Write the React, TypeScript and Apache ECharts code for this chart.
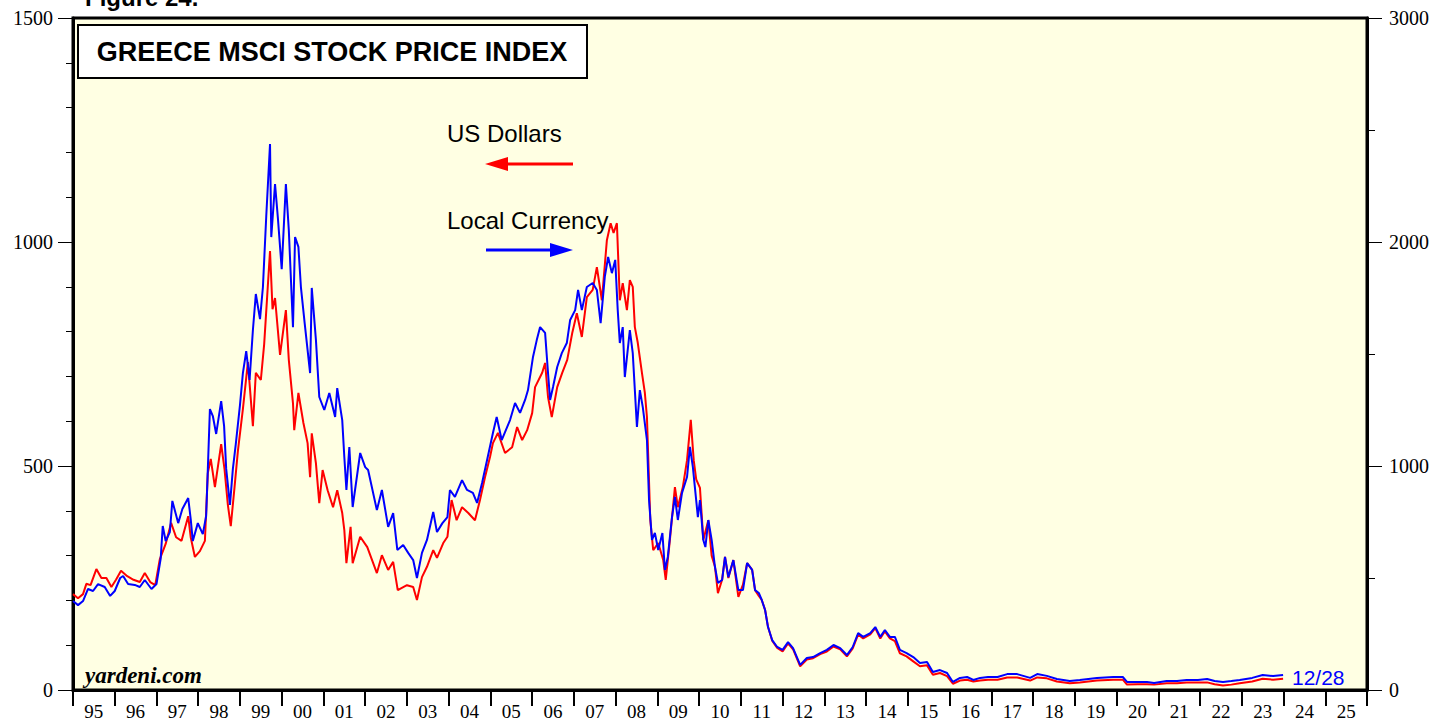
import React, { useEffect, useRef } from "react";
import * as echarts from "echarts";

// Year tick labels (category bands, one per year 1995..2025)
const yearLabels = [
  "95", "96", "97", "98", "99", "00", "01", "02", "03", "04", "05", "06", "07", "08", "09", "10",
  "11", "12", "13", "14", "15", "16", "17", "18", "19", "20", "21", "22", "23", "24", "25",
];

// US Dollars (left axis) [year fraction, index]
const usd1995_1999: [number, number][] = [
  [1995.0, 214], [1995.12, 205], [1995.24, 214], [1995.32, 237], [1995.42, 234], [1995.56, 270],
  [1995.68, 250], [1995.8, 250], [1995.92, 230], [1996.03, 246], [1996.15, 266], [1996.3, 254],
  [1996.45, 246], [1996.6, 241], [1996.72, 261], [1996.85, 241], [1996.97, 234], [1997.08, 292],
  [1997.22, 326], [1997.35, 373], [1997.47, 341], [1997.6, 333], [1997.76, 388], [1997.82, 341],
  [1997.92, 297], [1998.04, 310], [1998.16, 333], [1998.23, 484], [1998.3, 516], [1998.4, 453],
  [1998.55, 549], [1998.63, 493], [1998.71, 413], [1998.78, 366], [1998.87, 453], [1998.95, 533],
  [1999.07, 627], [1999.19, 732], [1999.31, 589], [1999.38, 708], [1999.5, 692], [1999.58, 772],
  [1999.66, 891], [1999.72, 980], [1999.78, 850], [1999.84, 875], [1999.96, 748],
];
const usd2000_2004: [number, number][] = [
  [2000.1, 848], [2000.17, 737], [2000.27, 640], [2000.3, 580], [2000.4, 663], [2000.52, 596],
  [2000.62, 551], [2000.68, 475], [2000.72, 573], [2000.82, 506], [2000.9, 417], [2000.98, 491],
  [2001.1, 446], [2001.23, 408], [2001.33, 446], [2001.45, 395], [2001.5, 357], [2001.55, 283],
  [2001.65, 364], [2001.7, 283], [2001.88, 342], [2002.05, 319], [2002.28, 261], [2002.4, 301],
  [2002.55, 268], [2002.67, 286], [2002.78, 223], [2003.0, 234], [2003.15, 230], [2003.24, 201],
  [2003.36, 252], [2003.48, 275], [2003.63, 312], [2003.72, 295], [2003.87, 328], [2003.97, 342],
  [2004.07, 424], [2004.19, 379], [2004.32, 408], [2004.47, 395], [2004.63, 379], [2004.75, 424],
  [2004.87, 475], [2004.99, 520],
];
const usd2005_2009: [number, number][] = [
  [2005.06, 551], [2005.18, 574], [2005.35, 529], [2005.52, 542], [2005.64, 587], [2005.76, 558],
  [2005.88, 580], [2006.0, 618], [2006.07, 676], [2006.24, 708], [2006.31, 730], [2006.38, 654],
  [2006.47, 609], [2006.6, 676], [2006.72, 708], [2006.84, 737], [2006.96, 797], [2007.07, 841],
  [2007.19, 788], [2007.31, 877], [2007.45, 893], [2007.55, 944], [2007.67, 870], [2007.79, 1004],
  [2007.88, 1042], [2007.95, 1020], [2008.03, 1042], [2008.1, 870], [2008.17, 908], [2008.27, 848],
  [2008.34, 915], [2008.41, 900], [2008.46, 810], [2008.53, 775], [2008.63, 708], [2008.7, 663],
  [2008.75, 609], [2008.83, 379], [2008.9, 312], [2009.02, 328], [2009.14, 290], [2009.2, 246],
  [2009.3, 335], [2009.42, 453], [2009.49, 408], [2009.61, 453], [2009.71, 513], [2009.8, 603],
  [2009.87, 513], [2009.93, 470],
];
const usd2010_2015: [number, number][] = [
  [2010.02, 451], [2010.1, 335], [2010.22, 379], [2010.3, 300], [2010.38, 275], [2010.45, 216],
  [2010.55, 246], [2010.62, 297], [2010.7, 250], [2010.82, 290], [2010.94, 208], [2011.05, 235],
  [2011.15, 283], [2011.27, 268], [2011.34, 223], [2011.43, 210], [2011.5, 201], [2011.58, 179],
  [2011.65, 141], [2011.75, 110], [2011.87, 94], [2012.0, 86], [2012.13, 104], [2012.25, 91],
  [2012.42, 53], [2012.58, 68], [2012.73, 71], [2012.9, 80], [2013.06, 86], [2013.22, 97],
  [2013.38, 91], [2013.54, 75], [2013.68, 93], [2013.81, 124], [2013.93, 115], [2014.1, 124],
  [2014.22, 138], [2014.34, 115], [2014.45, 131], [2014.57, 115], [2014.69, 109], [2014.81, 82],
  [2014.97, 75], [2015.13, 64], [2015.29, 53], [2015.46, 55], [2015.6, 34], [2015.77, 38],
  [2015.94, 31],
];
const usd2016_2023: [number, number][] = [
  [2016.08, 14], [2016.25, 21], [2016.42, 23], [2016.57, 19], [2016.73, 21], [2016.92, 23],
  [2017.15, 23], [2017.38, 28], [2017.62, 28], [2017.93, 21], [2018.1, 28], [2018.33, 26],
  [2018.57, 19], [2018.88, 15], [2019.12, 17], [2019.53, 21], [2019.92, 23], [2020.15, 23],
  [2020.25, 12], [2020.5, 13], [2020.73, 13], [2020.9, 12], [2021.2, 15], [2021.45, 15],
  [2021.68, 17], [2021.95, 17], [2022.17, 17], [2022.35, 13], [2022.55, 10], [2022.75, 12],
  [2022.95, 15], [2023.25, 19], [2023.5, 25], [2023.75, 23], [2023.99, 25],
];

// Local currency (right axis) [year fraction, index]
const local1995_1999: [number, number][] = [
  [1995.0, 397], [1995.12, 379], [1995.24, 397], [1995.36, 451], [1995.48, 442], [1995.6, 473],
  [1995.76, 460], [1995.89, 420], [1996.0, 442], [1996.13, 500], [1996.2, 509], [1996.32, 473],
  [1996.48, 469], [1996.6, 460], [1996.72, 491], [1996.88, 451], [1997.0, 473], [1997.1, 585],
  [1997.15, 732], [1997.22, 665], [1997.32, 705], [1997.38, 844], [1997.45, 795], [1997.52, 745],
  [1997.62, 808], [1997.76, 857], [1997.82, 763], [1997.87, 665], [1997.99, 745], [1998.11, 696],
  [1998.19, 777], [1998.23, 987], [1998.28, 1254], [1998.35, 1223], [1998.43, 1143], [1998.55, 1290],
  [1998.62, 1178], [1998.67, 987], [1998.76, 826], [1998.83, 987], [1998.9, 1098], [1999.0, 1272],
  [1999.07, 1415], [1999.15, 1513], [1999.23, 1384], [1999.31, 1607], [1999.38, 1768], [1999.48, 1656],
  [1999.55, 1799], [1999.63, 2116], [1999.72, 2437], [1999.75, 2022], [1999.84, 2259], [1999.91, 2103],
];
const local2000_2004: [number, number][] = [
  [2000.0, 1879], [2000.1, 2259], [2000.17, 2053], [2000.27, 1620], [2000.32, 2022], [2000.4, 1978],
  [2000.46, 1799], [2000.55, 1638], [2000.68, 1415], [2000.72, 1795], [2000.82, 1562], [2000.9, 1308],
  [2001.02, 1250], [2001.14, 1326], [2001.28, 1219], [2001.33, 1348], [2001.45, 1205], [2001.5, 1040],
  [2001.55, 893], [2001.62, 1085], [2001.7, 817], [2001.88, 1058], [2002.0, 995], [2002.07, 982],
  [2002.28, 803], [2002.4, 893], [2002.55, 728], [2002.67, 790], [2002.77, 625], [2002.91, 647],
  [2003.03, 612], [2003.15, 580], [2003.24, 500], [2003.36, 612], [2003.48, 670], [2003.63, 795],
  [2003.72, 705], [2003.85, 745], [2003.97, 772], [2004.03, 893], [2004.15, 862], [2004.32, 937],
  [2004.44, 893], [2004.58, 880], [2004.68, 835], [2004.8, 924], [2004.92, 1027],
];
const local2005_2009: [number, number][] = [
  [2005.06, 1147], [2005.15, 1219], [2005.27, 1116], [2005.47, 1205], [2005.59, 1281], [2005.71, 1237],
  [2005.83, 1295], [2005.9, 1339], [2006.02, 1487], [2006.11, 1562], [2006.19, 1620], [2006.31, 1594],
  [2006.38, 1415], [2006.43, 1295], [2006.5, 1353], [2006.6, 1442], [2006.71, 1504], [2006.83, 1549],
  [2006.91, 1652], [2007.03, 1696], [2007.1, 1786], [2007.19, 1696], [2007.31, 1799], [2007.45, 1817],
  [2007.55, 1786], [2007.64, 1638], [2007.74, 1844], [2007.82, 1933], [2007.91, 1861], [2007.99, 1920],
  [2008.05, 1696], [2008.1, 1549], [2008.17, 1620], [2008.22, 1397], [2008.34, 1607], [2008.41, 1504],
  [2008.51, 1174], [2008.58, 1339], [2008.65, 1263], [2008.75, 1116], [2008.8, 848], [2008.87, 670],
  [2008.94, 701], [2009.02, 625], [2009.12, 701], [2009.18, 536], [2009.25, 594], [2009.35, 772],
  [2009.42, 862], [2009.49, 759], [2009.59, 880], [2009.71, 951], [2009.78, 1085], [2009.85, 995],
  [2009.97, 772],
];
const local2010_2015: [number, number][] = [
  [2010.02, 848], [2010.1, 670], [2010.15, 638], [2010.22, 759], [2010.3, 670], [2010.38, 549],
  [2010.45, 478], [2010.55, 491], [2010.62, 594], [2010.7, 504], [2010.82, 580], [2010.94, 446],
  [2011.05, 446], [2011.15, 567], [2011.27, 536], [2011.34, 446], [2011.43, 433], [2011.5, 402],
  [2011.58, 357], [2011.65, 281], [2011.75, 223], [2011.87, 192], [2012.0, 179], [2012.13, 214],
  [2012.25, 187], [2012.42, 112], [2012.58, 143], [2012.73, 147], [2012.9, 165], [2013.06, 179],
  [2013.22, 201], [2013.38, 187], [2013.54, 156], [2013.68, 192], [2013.81, 254], [2013.93, 237],
  [2014.1, 254], [2014.22, 281], [2014.34, 237], [2014.45, 268], [2014.57, 237], [2014.69, 237],
  [2014.81, 179], [2014.97, 165], [2015.13, 147], [2015.29, 121], [2015.46, 125], [2015.6, 80],
  [2015.77, 89], [2015.94, 76],
];
const local2016_2023: [number, number][] = [
  [2016.08, 36], [2016.25, 54], [2016.42, 58], [2016.57, 45], [2016.73, 54], [2016.92, 58],
  [2017.15, 58], [2017.38, 71], [2017.62, 71], [2017.93, 54], [2018.1, 71], [2018.33, 63],
  [2018.57, 49], [2018.88, 40], [2019.12, 45], [2019.53, 54], [2019.92, 58], [2020.15, 58],
  [2020.25, 36], [2020.5, 36], [2020.73, 36], [2020.9, 31], [2021.2, 40], [2021.45, 40],
  [2021.68, 45], [2021.95, 45], [2022.17, 49], [2022.35, 40], [2022.55, 36], [2022.75, 40],
  [2022.95, 45], [2023.25, 54], [2023.5, 67], [2023.75, 62], [2023.99, 67],
];

const usdData = [...usd1995_1999, ...usd2000_2004, ...usd2005_2009, ...usd2010_2015, ...usd2016_2023];
const localData = [
  ...local1995_1999, ...local2000_2004, ...local2005_2009, ...local2010_2015, ...local2016_2023,
];

const SANS = "'Liberation Sans', Arial, Helvetica, sans-serif";
const SERIF = "'Liberation Serif', 'Times New Roman', serif";

export default function App() {
  const ref = useRef<HTMLDivElement>(null);
  useEffect(() => {
    if (!ref.current) return;
    const chart = echarts.init(ref.current, undefined, { renderer: "svg" });
    chart.setOption({
      animation: false,
      backgroundColor: "#ffffff",
      grid: {
        left: 73,
        right: 83,
        top: 18,
        bottom: 31,
        show: true,
        backgroundColor: "#FFFFE3",
        borderColor: "#000",
        borderWidth: 3,
      },
      xAxis: [
        {
          type: "category",
          data: yearLabels,
          boundaryGap: true,
          position: "bottom",
          axisLine: { show: true, lineStyle: { color: "#000", width: 3 } },
          axisTick: { show: true, interval: 0, length: 16, lineStyle: { color: "#000", width: 2 } },
          axisLabel: {
            interval: 0,
            color: "#000",
            fontFamily: SERIF,
            fontSize: 19,
            margin: 12,
          },
          splitLine: { show: false },
        },
        {
          type: "value",
          min: 1995,
          max: 2026,
          show: false,
          splitLine: { show: false },
        },
      ],
      yAxis: [
        {
          type: "value",
          min: 0,
          max: 1500,
          interval: 500,
          position: "left",
          axisLine: { show: true, lineStyle: { color: "#000", width: 3 } },
          axisTick: { show: true, inside: false, length: 15, lineStyle: { color: "#000", width: 1 } },
          minorTick: { show: true, splitNumber: 5, length: 7, lineStyle: { color: "#000", width: 1 } },
          axisLabel: {
            color: "#000",
            fontFamily: SERIF,
            fontSize: 20,
            margin: 20,
            formatter: (v: number) => String(v),
          },
          splitLine: { show: false },
          minorSplitLine: { show: false },
        },
        {
          type: "value",
          min: 0,
          max: 3000,
          interval: 1000,
          position: "right",
          axisLine: { show: true, lineStyle: { color: "#000", width: 3 } },
          axisTick: { show: true, inside: false, length: 15, lineStyle: { color: "#000", width: 1 } },
          minorTick: { show: true, splitNumber: 2, length: 8, lineStyle: { color: "#000", width: 1 } },
          axisLabel: {
            color: "#000",
            fontFamily: SERIF,
            fontSize: 20,
            margin: 22,
            formatter: (v: number) => String(v),
          },
          splitLine: { show: false },
          minorSplitLine: { show: false },
        },
      ],
      series: [
        {
          name: "US Dollars",
          type: "line",
          xAxisIndex: 1,
          yAxisIndex: 0,
          data: usdData,
          symbol: "none",
          lineStyle: { color: "#FF0000", width: 2 },
          z: 3,
        },
        {
          name: "Local Currency",
          type: "line",
          xAxisIndex: 1,
          yAxisIndex: 1,
          data: localData,
          symbol: "none",
          lineStyle: { color: "#0000FF", width: 2 },
          z: 4,
        },
      ],
      graphic: [
        {
          type: "text",
          x: 85,
          y: 9,
          z: 100,
          style: {
            text: "Figure 24.",
            font: `bold 24px ${SANS}`,
            fill: "#000",
            verticalAlign: "bottom",
          },
        },
        {
          type: "rect",
          z: 100,
          shape: { x: 78, y: 25, width: 509, height: 53 },
          style: { fill: "#ffffff", stroke: "#000", lineWidth: 2 },
        },
        {
          type: "text",
          x: 332,
          y: 52,
          z: 101,
          style: {
            text: "GREECE MSCI STOCK PRICE INDEX",
            font: `bold 27px ${SANS}`,
            fill: "#000",
            align: "center",
            verticalAlign: "middle",
          },
        },
        {
          type: "text",
          x: 447,
          y: 133,
          z: 100,
          style: {
            text: "US Dollars",
            font: `24px ${SANS}`,
            fill: "#000",
            align: "left",
            verticalAlign: "middle",
          },
        },
        {
          type: "line",
          z: 100,
          shape: { x1: 573, y1: 164, x2: 502, y2: 164 },
          style: { stroke: "#FF0000", lineWidth: 3 },
        },
        {
          type: "polygon",
          z: 100,
          shape: { points: [[485, 164], [508, 157], [508, 171]] },
          style: { fill: "#FF0000" },
        },
        {
          type: "text",
          x: 447,
          y: 220,
          z: 100,
          style: {
            text: "Local Currency",
            font: `24px ${SANS}`,
            fill: "#000",
            align: "left",
            verticalAlign: "middle",
          },
        },
        {
          type: "line",
          z: 100,
          shape: { x1: 486, y1: 250, x2: 556, y2: 250 },
          style: { stroke: "#0000FF", lineWidth: 3 },
        },
        {
          type: "polygon",
          z: 100,
          shape: { points: [[573, 250], [550, 243], [550, 257]] },
          style: { fill: "#0000FF" },
        },
        {
          type: "text",
          x: 1292,
          y: 677,
          z: 100,
          style: {
            text: "12/28",
            font: `21px ${SANS}`,
            fill: "#0000FF",
            align: "left",
            verticalAlign: "middle",
          },
        },
        {
          type: "text",
          x: 85,
          y: 675,
          z: 100,
          style: {
            text: "yardeni.com",
            font: `italic bold 23px ${SERIF}`,
            fill: "#000",
            align: "left",
            verticalAlign: "middle",
          },
        },
      ],
    });
    return () => chart.dispose();
  }, []);
  return (
    <div
      ref={ref}
      style={{ position: "fixed", left: 0, top: 0, width: 1450, height: 721 }}
    />
  );
}
